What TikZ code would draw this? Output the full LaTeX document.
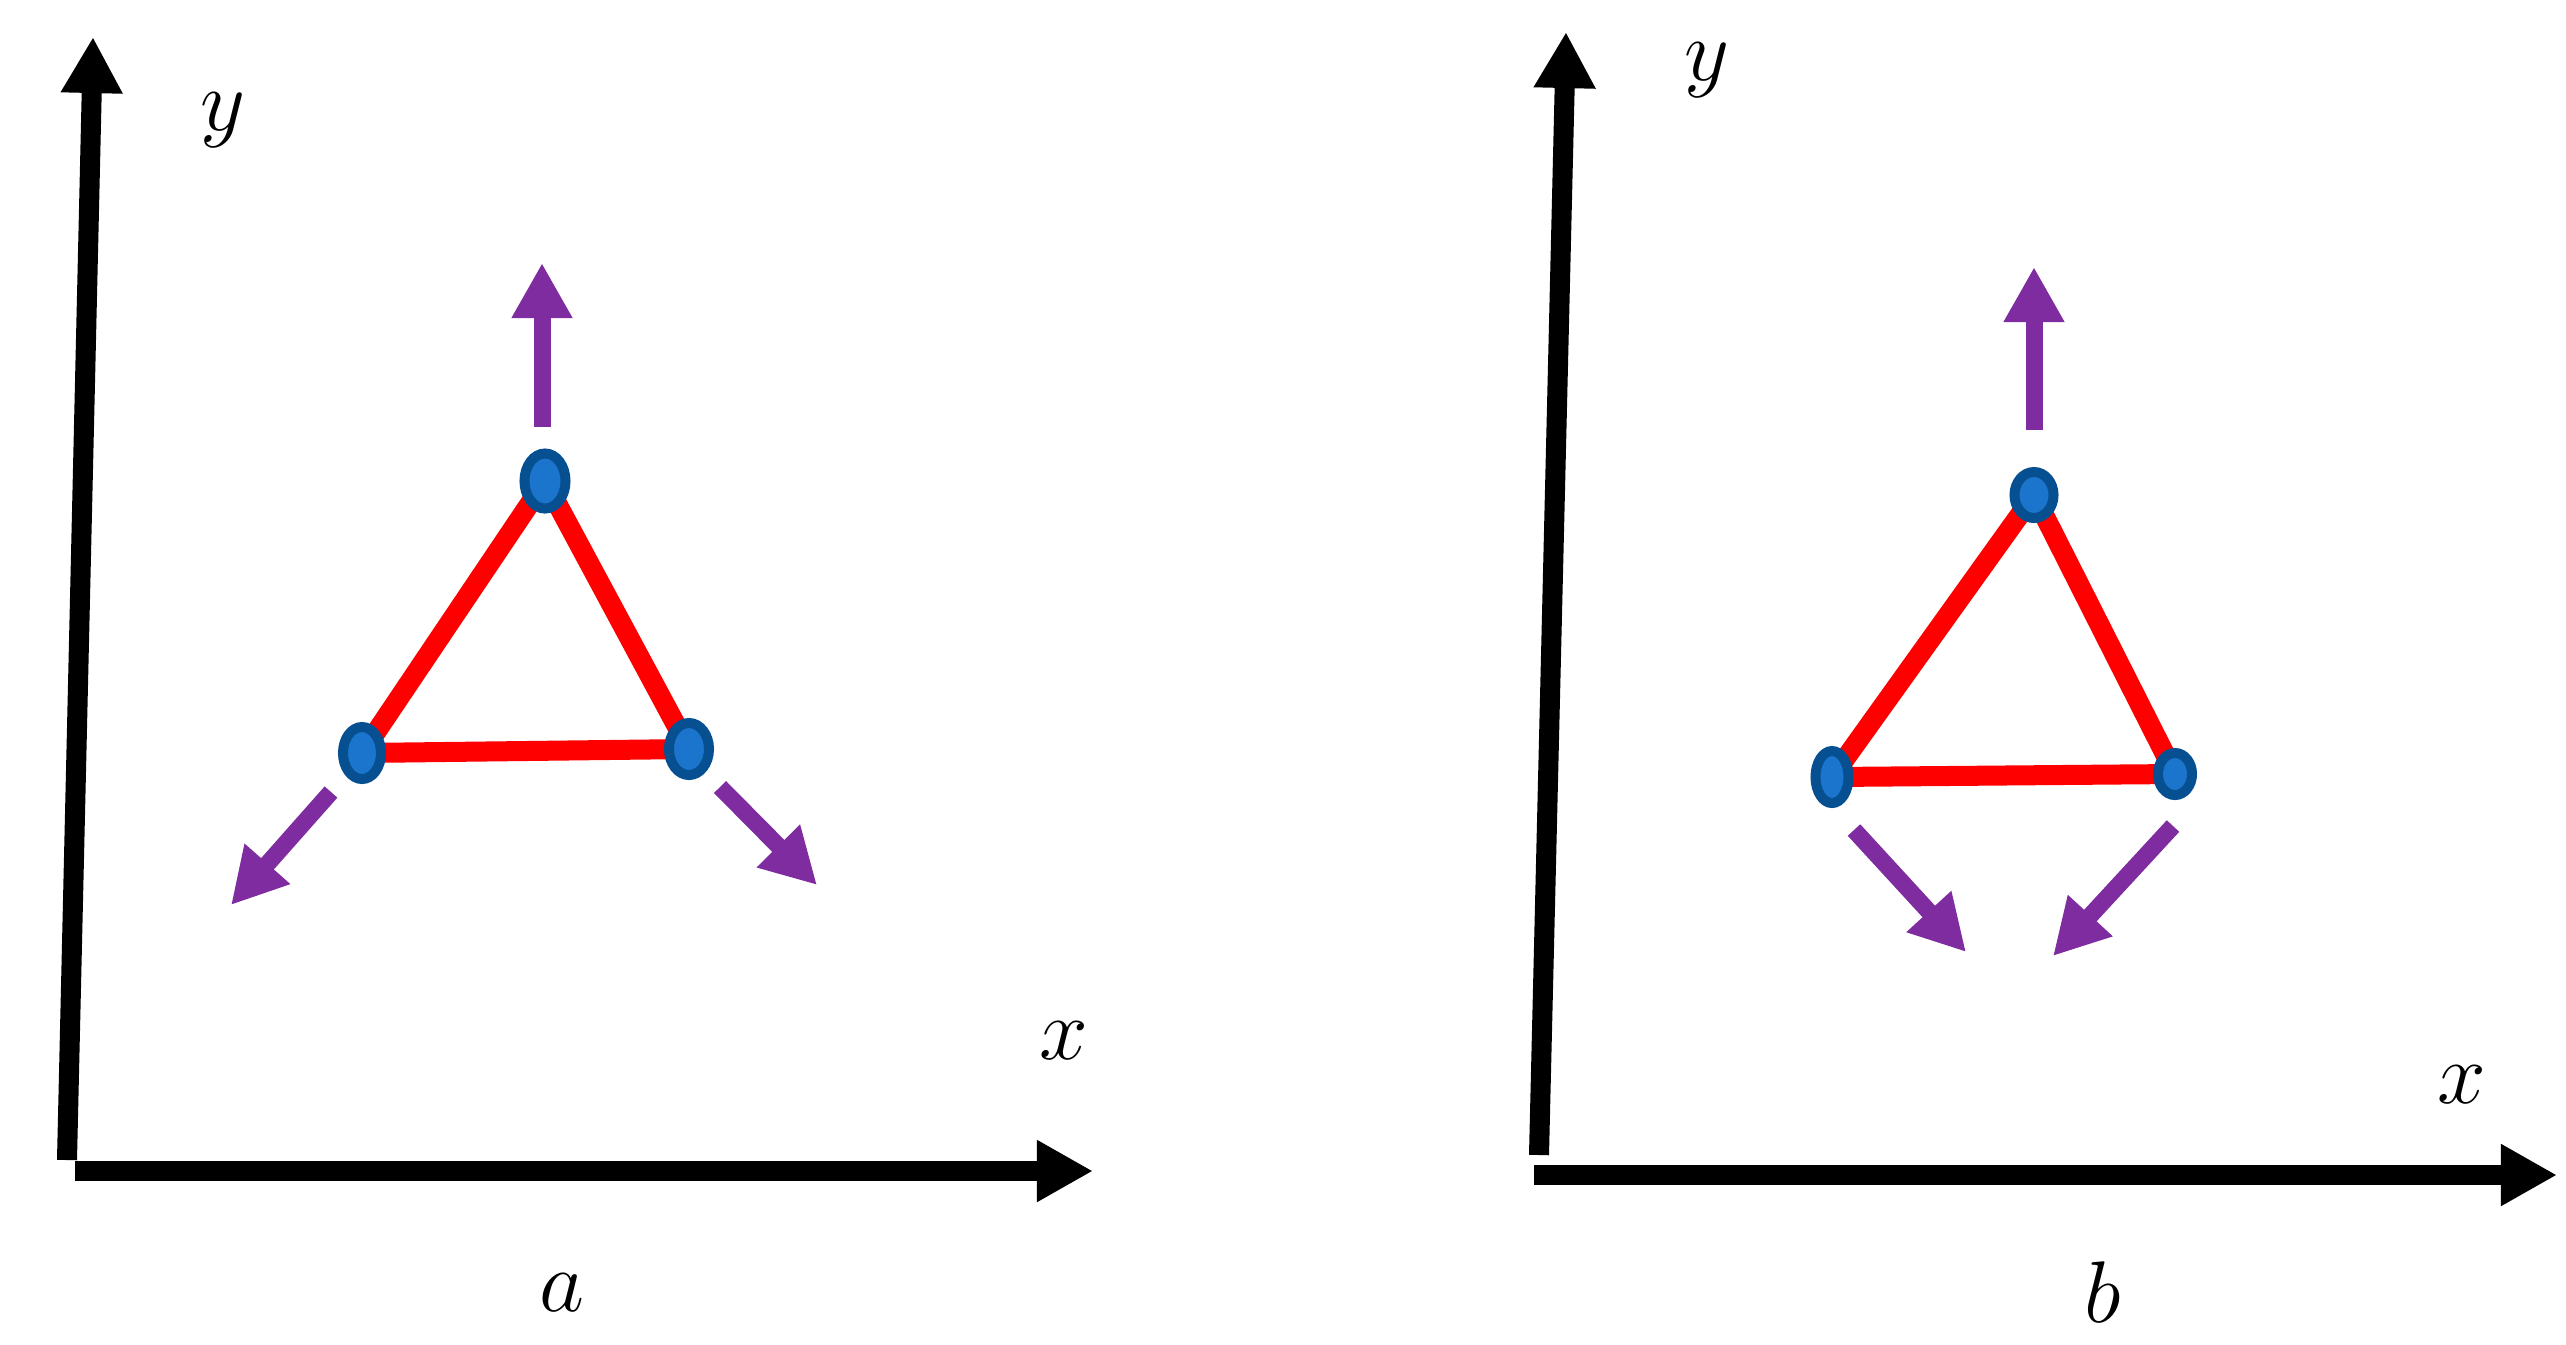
\documentclass[tikz,border=0pt]{standalone}
\usetikzlibrary{arrows.meta,shapes.geometric,backgrounds}
\definecolor{vblue}{RGB}{28,117,204}
\definecolor{vdark}{RGB}{6,80,145}
\definecolor{vpurple}{RGB}{127,44,160}
\begin{document}
\begin{tikzpicture}[x=0.01cm,y=-0.01cm,
 axis/.style={line width=0.2cm, -{Triangle[length=0.56cm,width=0.58cm]}},
 force/.style={vpurple, line width=0.17cm, -{Triangle[length=0.55cm,width=0.57cm]}},
 bond/.style={red, line width=0.2cm},
 atom/.style={ellipse, draw=vdark, fill=vblue, line width=0.1cm, inner sep=0pt},
 lbl/.style={font=\fontsize{30}{36}\selectfont, inner sep=0pt}
]
\useasboundingbox (0,0) rectangle (2566,1344);

% ---------- panel a ----------
\coordinate (ay0) at (67,1160);
\coordinate (ay1) at (93,37);
\coordinate (ax0) at (75,1171);
\coordinate (ax1) at (1093,1171);
\draw[axis] (ay0) -- (ay1);
\draw[axis] (ax0) -- (ax1);
\node[lbl] (ylA) at (223,120) {$y$};
\node[lbl] (xlA) at (1064,1041) {$x$};
\node[lbl] (capA) at (562,1293) {$a$};

\node[atom, minimum width=0.41cm, minimum height=0.55cm] (tA) at (545,481) {};
\node[atom, minimum width=0.38cm, minimum height=0.52cm] (lA) at (362,753) {};
\node[atom, minimum width=0.40cm, minimum height=0.52cm] (rA) at (689,749) {};
\begin{pgfonlayer}{background}
\draw[bond] (tA.center) -- (lA.center) -- (rA.center) -- cycle;
\end{pgfonlayer}

\coordinate (fAt0) at (542,427);
\coordinate (fAt1) at (542,263);
\coordinate (fAl0) at (331,792);
\coordinate (fAl1) at (231,905);
\coordinate (fAr0) at (720,787);
\coordinate (fAr1) at (817,885);
\draw[force] (fAt0) -- (fAt1);
\draw[force] (fAl0) -- (fAl1);
\draw[force] (fAr0) -- (fAr1);

% ---------- panel b ----------
\coordinate (by0) at (1539,1155);
\coordinate (by1) at (1566,32);
\coordinate (bx0) at (1534,1175);
\coordinate (bx1) at (2557,1175);
\draw[axis] (by0) -- (by1);
\draw[axis] (bx0) -- (bx1);
\node[lbl] (ylB) at (1707,70) {$y$};
\node[lbl] (xlB) at (2462,1085) {$x$};
\node[lbl] (capB) at (2103,1292) {$b$};

\node[atom, minimum width=0.39cm, minimum height=0.46cm] (tB) at (2034,495) {};
\node[atom, minimum width=0.33cm, minimum height=0.52cm] (lB) at (1832,777) {};
\node[atom, minimum width=0.34cm, minimum height=0.42cm] (rB) at (2175,774) {};
\begin{pgfonlayer}{background}
\draw[bond] (tB.center) -- (lB.center) -- (rB.center) -- cycle;
\end{pgfonlayer}

\coordinate (fBt0) at (2034,430);
\coordinate (fBt1) at (2034,267);
\coordinate (fBl0) at (1854,830);
\coordinate (fBl1) at (1966,952);
\coordinate (fBr0) at (2173,826);
\coordinate (fBr1) at (2053,956);
\draw[force] (fBt0) -- (fBt1);
\draw[force] (fBl0) -- (fBl1);
\draw[force] (fBr0) -- (fBr1);
\end{tikzpicture}
\end{document}
